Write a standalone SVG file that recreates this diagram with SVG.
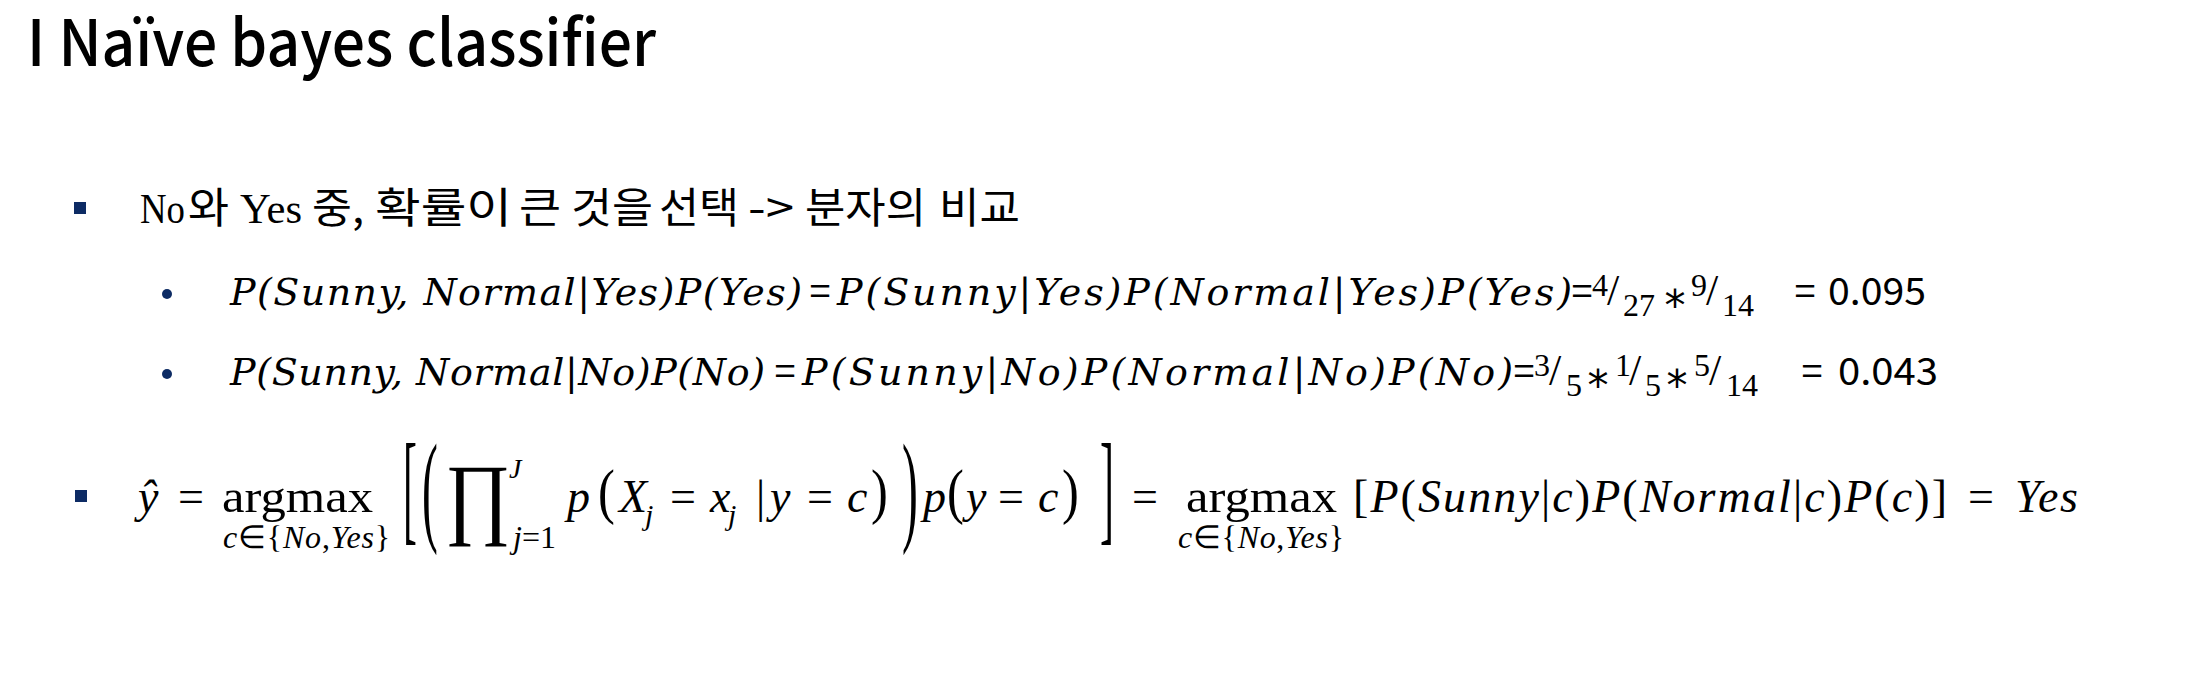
<svg xmlns="http://www.w3.org/2000/svg" width="2186" height="684" viewBox="0 0 2186 684">
<style>
.bg{fill:#ffffff}
.t{font-family:"Noto Sans CJK KR","Liberation Sans",sans-serif;font-size:64px;font-weight:500;fill:#000}
.k{font-family:"Noto Sans CJK KR","Liberation Sans",sans-serif;font-size:42px;fill:#000}
.r{font-family:"Liberation Serif",serif;font-size:42px;fill:#000}
.m{font-family:"Liberation Serif",serif;font-style:italic;fill:#000}
.u{font-family:"Liberation Serif",serif;font-style:normal;fill:#000}
.d{font-family:"DejaVu Serif","Liberation Serif",serif;font-style:italic;font-size:38px;fill:#000}
.sn{font-family:"Noto Sans CJK KR","Liberation Sans",sans-serif;font-size:38px;fill:#000}
.ast{font-family:"DejaVu Sans","Liberation Sans",sans-serif;font-size:42px;fill:#000}
.sl{font-size:44px}
.sup{font-size:32px}
.b{font-size:46px}
.sb{font-size:32px}
.bul{fill:#0d2b64}
</style>
<rect class="bg" x="0" y="0" width="2186" height="684"/>

<g id="title">
<text class="t" x="27" y="66" textLength="629" lengthAdjust="spacingAndGlyphs">I Naïve bayes classifier</text>
</g>

<g id="bullet1">
<rect class="bul" x="74" y="202" width="12" height="12"/>
<text class="r" x="140" y="223" textLength="45" lengthAdjust="spacingAndGlyphs">No</text>
<text class="k" x="188" y="223" textLength="41" lengthAdjust="spacingAndGlyphs">와</text>
<text class="r" x="240" y="223" textLength="62" lengthAdjust="spacingAndGlyphs">Yes</text>
<text class="k" x="312" y="223" textLength="52" lengthAdjust="spacingAndGlyphs">중,</text>
<text class="k" x="375" y="223" textLength="137" lengthAdjust="spacingAndGlyphs">확률이</text>
<text class="k" x="519" y="223" textLength="42" lengthAdjust="spacingAndGlyphs">큰</text>
<text class="k" x="571" y="223" textLength="82" lengthAdjust="spacingAndGlyphs">것을</text>
<text class="k" x="659" y="223" textLength="80" lengthAdjust="spacingAndGlyphs">선택</text>
<text class="k" x="748" y="223" textLength="46" lengthAdjust="spacingAndGlyphs">-&gt;</text>
<text class="k" x="805" y="223" textLength="121" lengthAdjust="spacingAndGlyphs">분자의</text>
<text class="k" x="939" y="223" textLength="81" lengthAdjust="spacingAndGlyphs">비교</text>
</g>

<g id="row1">
<circle class="bul" cx="167" cy="294" r="5"/>
<text class="d" x="230" y="305" textLength="572" lengthAdjust="spacing">P(Sunny, Normal|Yes)P(Yes)</text>
<text class="sn" x="820" y="305" text-anchor="middle">=</text>
<text class="d" x="837" y="305" textLength="735" lengthAdjust="spacing">P(Sunny|Yes)P(Normal|Yes)P(Yes)</text>
<text class="sn" x="1582" y="305" text-anchor="middle">=</text>
<text class="u sup" x="1592" y="296">4</text>
<text class="u sl" x="1613" y="305" text-anchor="middle">/</text>
<text class="u sup" x="1623" y="316">27</text>
<text class="ast" x="1675" y="320" text-anchor="middle">*</text>
<text class="u sup" x="1691" y="296">9</text>
<text class="u sl" x="1712" y="305" text-anchor="middle">/</text>
<text class="u sup" x="1722" y="316">14</text>
<text class="sn" x="1805" y="305" text-anchor="middle">=</text>
<text class="sn" x="1828" y="305" textLength="98" lengthAdjust="spacingAndGlyphs">0.095</text>
</g>

<g id="row2">
<circle class="bul" cx="167" cy="374" r="5"/>
<text class="d" x="230" y="385" textLength="535" lengthAdjust="spacing">P(Sunny, Normal|No)P(No)</text>
<text class="sn" x="785" y="385" text-anchor="middle">=</text>
<text class="d" x="802" y="385" textLength="711" lengthAdjust="spacing">P(Sunny|No)P(Normal|No)P(No)</text>
<text class="sn" x="1524" y="385" text-anchor="middle">=</text>
<text class="u sup" x="1534" y="376">3</text>
<text class="u sl" x="1555" y="385" text-anchor="middle">/</text>
<text class="u sup" x="1566" y="396">5</text>
<text class="ast" x="1598" y="400" text-anchor="middle">*</text>
<text class="u sup" x="1615" y="376">1</text>
<text class="u sl" x="1635" y="385" text-anchor="middle">/</text>
<text class="u sup" x="1645" y="396">5</text>
<text class="ast" x="1677" y="400" text-anchor="middle">*</text>
<text class="u sup" x="1694" y="376">5</text>
<text class="u sl" x="1715" y="385" text-anchor="middle">/</text>
<text class="u sup" x="1726" y="396">14</text>
<text class="sn" x="1812" y="385" text-anchor="middle">=</text>
<text class="sn" x="1838" y="385" textLength="100" lengthAdjust="spacingAndGlyphs">0.043</text>
</g>

<g id="formula">
<rect class="bul" x="75" y="490" width="12" height="12"/>
<text class="m b" x="138" y="512">ŷ</text>
<text class="u b" x="178" y="512">=</text>
<text class="u b" x="222" y="512" textLength="151" lengthAdjust="spacingAndGlyphs">argmax</text>
<text class="sb" x="223" y="548" textLength="167" lengthAdjust="spacing"><tspan class="m">c</tspan><tspan class="u">∈{</tspan><tspan class="m">No</tspan><tspan class="u">,</tspan><tspan class="m">Yes</tspan><tspan class="u">}</tspan></text>
<text class="u" style="font-size:38px" transform="translate(403,529) scale(1.1,3.25)">[</text>
<text class="u" style="font-size:38px" transform="translate(422,529) scale(1.25,3.25)">(</text>
<text class="u" style="font-size:84px" transform="translate(445,527) scale(0.95,1.08)">∏</text>
<text class="m" style="font-size:28px" x="509" y="478">J</text>
<text style="font-size:32px" x="513" y="548"><tspan class="m">j</tspan><tspan class="u">=1</tspan></text>
<text class="m b" x="567" y="512">p</text>
<text class="u b" transform="translate(598,512) scale(1.1,1.31)">(</text>
<text class="m b" x="619" y="512">X</text>
<text class="m" style="font-size:30px" x="645" y="525">j</text>
<text class="u b" x="670" y="512">=</text>
<text class="m b" x="710" y="512">x</text>
<text class="m" style="font-size:30px" x="728" y="525">j</text>
<text class="u b" x="756" y="512">|</text>
<text class="m b" x="770" y="512">y</text>
<text class="u b" x="807" y="512">=</text>
<text class="m b" x="847" y="512">c</text>
<text class="u b" transform="translate(871,512) scale(1.1,1.31)">)</text>
<text class="u" style="font-size:38px" transform="translate(902,529) scale(1.25,3.25)">)</text>
<text class="m b" x="923" y="512">p</text>
<text class="u b" transform="translate(947,512) scale(1.1,1.31)">(</text>
<text class="m b" x="966" y="512">y</text>
<text class="u b" x="998" y="512">=</text>
<text class="m b" x="1038" y="512">c</text>
<text class="u b" transform="translate(1062,512) scale(1.1,1.31)">)</text>
<text class="u" style="font-size:38px" transform="translate(1100,529) scale(1.1,3.25)">]</text>
<text class="u b" x="1132" y="512">=</text>
<text class="u b" x="1186" y="512" textLength="151" lengthAdjust="spacingAndGlyphs">argmax</text>
<text class="sb" x="1178" y="548" textLength="166" lengthAdjust="spacing"><tspan class="m">c</tspan><tspan class="u">∈{</tspan><tspan class="m">No</tspan><tspan class="u">,</tspan><tspan class="m">Yes</tspan><tspan class="u">}</tspan></text>
<text class="b" x="1353" y="512" textLength="594" lengthAdjust="spacing"><tspan class="u">[</tspan><tspan class="m">P</tspan><tspan class="u">(</tspan><tspan class="m">Sunny</tspan><tspan class="u">|</tspan><tspan class="m">c</tspan><tspan class="u">)</tspan><tspan class="m">P</tspan><tspan class="u">(</tspan><tspan class="m">Normal</tspan><tspan class="u">|</tspan><tspan class="m">c</tspan><tspan class="u">)</tspan><tspan class="m">P</tspan><tspan class="u">(</tspan><tspan class="m">c</tspan><tspan class="u">)]</tspan></text>
<text class="u b" x="1968" y="512">=</text>
<text class="m b" x="2015" y="512" textLength="63" lengthAdjust="spacing">Yes</text>
</g>
</svg>
